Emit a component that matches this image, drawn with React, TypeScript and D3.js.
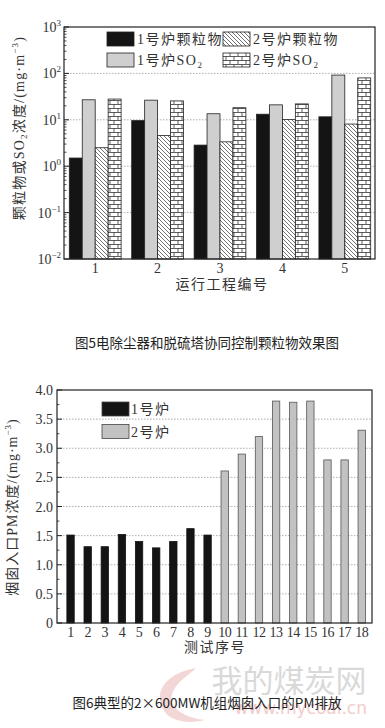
import { useEffect, useRef } from 'react'
import * as d3 from 'd3'

// chart 1: 电除尘器和脱硫塔协同控制
const projects = ['1', '2', '3', '4', '5']
const seriesKeys = ['pm1', 'so1', 'pm2', 'so2']
const seriesLabels = ['1号炉颗粒物', '1号炉SO', '2号炉颗粒物', '2号炉SO']
const pm1 = [1.5, 9.6, 2.85, 13.2, 11.6]
const so1 = [27, 26.5, 13.5, 21, 92]
const pm2 = [2.5, 4.6, 3.35, 10.2, 8.1]
const so2 = [28, 25.5, 18.2, 22, 80]
const logTicks = [0.01, 0.1, 1, 10, 100, 1000]

// chart 2: 烟囱入口PM
const tests = ['1', '2', '3', '4', '5', '6', '7', '8', '9', '10', '11', '12', '13', '14', '15', '16', '17', '18']
const boiler = [1, 1, 1, 1, 1, 1, 1, 1, 1, 2, 2, 2, 2, 2, 2, 2, 2, 2]
const pmValues = [1.51, 1.31, 1.31, 1.52, 1.4, 1.29, 1.4, 1.62, 1.51, 2.61, 2.9, 3.2, 3.81, 3.79, 3.81, 2.8, 2.8, 3.31]
const pmTicks = [0, 0.5, 1.0, 1.5, 2.0, 2.5, 3.0, 3.5, 4.0]

const SERIF = "'Liberation Serif', 'Times New Roman', 'Noto Sans CJK SC', serif"
const CJK = "'Noto Sans CJK SC', sans-serif"

const App = () => {
  const ref = useRef(null)

  const draw = () => {
    const root = d3.select(ref.current)
    root.selectAll('*').remove()
    const svg = root.append('svg')
      .attr('width', 385).attr('height', 728)
      .style('display', 'block')
      .style('background', '#fff')

    const defs = svg.append('defs')
    // diagonal hatch
    const hatch = defs.append('pattern').attr('id', 'hatch')
      .attr('patternUnits', 'userSpaceOnUse').attr('width', 4).attr('height', 4)
    hatch.append('rect').attr('width', 4).attr('height', 4).attr('fill', '#fff')
    hatch.append('path').attr('d', 'M-1,-1 L5,5 M-1,3 L1,5 M3,-1 L5,1')
      .attr('stroke', '#333').attr('stroke-width', 0.7)
    // brick
    const brick = defs.append('pattern').attr('id', 'brick')
      .attr('patternUnits', 'userSpaceOnUse').attr('width', 8).attr('height', 8)
    brick.append('rect').attr('width', 8).attr('height', 8).attr('fill', '#fff')
    brick.append('path').attr('d', 'M0,0.5 H8 M0,4.5 H8 M2,0.5 V4.5 M6,4.5 V8.5')
      .attr('stroke', '#333').attr('stroke-width', 0.8)

    const fills = { pm1: '#141414', so1: '#cfcfcf', pm2: 'url(#hatch)', so2: 'url(#brick)' }
    const values = { pm1, so1, pm2, so2 }

    // ---------- chart 1 ----------
    const m1 = { left: 64, right: 375, top: 27, bottom: 259 }
    const x1 = d3.scaleBand().domain(projects).range([m1.left, m1.right + 1])
      .paddingInner(0.17).paddingOuter(0.085)
    const inner = d3.scaleBand().domain(seriesKeys).range([0, x1.bandwidth()])
    const y1 = d3.scaleLog().domain([0.01, 1000]).range([m1.bottom, m1.top])

    const g1 = svg.append('g')
    // grid
    g1.selectAll('.grid').data([0.1, 1, 10, 100]).enter().append('line')
      .attr('x1', m1.left).attr('x2', m1.right)
      .attr('y1', d => y1(d)).attr('y2', d => y1(d))
      .attr('stroke', '#999').attr('stroke-dasharray', '1.5,1.5').attr('stroke-width', 0.8)

    // bars
    seriesKeys.forEach(k => {
      g1.append('g').selectAll('rect').data(values[k]).enter().append('rect')
        .attr('x', (d, i) => x1(projects[i]) + inner(k))
        .attr('y', d => y1(d))
        .attr('width', inner.bandwidth())
        .attr('height', d => y1(0.01) - y1(d))
        .attr('fill', fills[k])
        .attr('stroke', '#222').attr('stroke-width', 0.8)
    })

    // frame
    g1.append('rect').attr('x', m1.left).attr('y', m1.top)
      .attr('width', m1.right - m1.left).attr('height', m1.bottom - m1.top)
      .attr('fill', 'none').attr('stroke', '#222').attr('stroke-width', 1.2)

    // log ticks (inside)
    const minor1 = []
    for (let e = -2; e < 3; e++) for (let k = 2; k < 10; k++) minor1.push(k * Math.pow(10, e))
    g1.selectAll('.mt').data(minor1).enter().append('line')
      .attr('x1', m1.left).attr('x2', m1.left + 2.5)
      .attr('y1', d => y1(d)).attr('y2', d => y1(d))
      .attr('stroke', '#222').attr('stroke-width', 0.8)
    g1.selectAll('.Mt').data(logTicks).enter().append('line')
      .attr('x1', m1.left).attr('x2', m1.left + 5)
      .attr('y1', d => y1(d)).attr('y2', d => y1(d))
      .attr('stroke', '#222').attr('stroke-width', 1)

    const yl = g1.selectAll('.yl').data(logTicks).enter().append('text')
      .attr('x', m1.left - 3).attr('y', d => y1(d) + 5)
      .attr('text-anchor', 'end')
      .attr('font-family', SERIF).attr('font-size', 14).attr('fill', '#333')
    yl.append('tspan').text('10')
    yl.append('tspan').attr('dy', -6).attr('font-size', 9).text(d => String(Math.round(Math.log10(d))).replace('-', '−'))

    g1.selectAll('.xl').data(projects).enter().append('text')
      .attr('x', d => x1(d) + x1.bandwidth() / 2).attr('y', 273)
      .attr('text-anchor', 'middle')
      .attr('font-family', SERIF).attr('font-size', 14).attr('fill', '#333')
      .text(d => d)

    g1.append('text').attr('x', 222).attr('y', 289).attr('text-anchor', 'middle')
      .attr('font-family', SERIF).attr('font-size', 14).attr('letter-spacing', 1.5).attr('fill', '#333')
      .text('运行工程编号')

    const yt1 = g1.append('text').attr('transform', 'translate(24,128) rotate(-90)')
      .attr('text-anchor', 'middle')
      .attr('font-family', SERIF).attr('font-size', 14).attr('letter-spacing', 1.2).attr('fill', '#333')
    yt1.append('tspan').text('颗粒物或SO')
    yt1.append('tspan').attr('font-size', 9).attr('dy', 3).text('2')
    yt1.append('tspan').attr('dy', -3).text('浓度/(mg·m')
    yt1.append('tspan').attr('font-size', 9).attr('dy', -6).text('−3')
    yt1.append('tspan').attr('dy', 6).text(')')

    // legend
    const legPos = [
      { bx: 107, by: 32, key: 'pm1' },
      { bx: 107, by: 53, key: 'so1' },
      { bx: 223, by: 32, key: 'pm2' },
      { bx: 223, by: 53, key: 'so2' },
    ]
    legPos.forEach((p, i) => {
      g1.append('rect').attr('x', p.bx).attr('y', p.by).attr('width', 27).attr('height', 14)
        .attr('fill', fills[p.key]).attr('stroke', '#222').attr('stroke-width', 0.8)
      const t = g1.append('text').attr('x', p.bx + 30).attr('y', p.by + 12)
        .attr('font-family', SERIF).attr('font-size', 14).attr('letter-spacing', 1.5).attr('fill', '#333')
      t.append('tspan').text(seriesLabels[i])
      if (seriesLabels[i].endsWith('SO')) t.append('tspan').attr('font-size', 9).attr('dy', 3).text('2')
    })

    svg.append('text').attr('x', 207).attr('y', 348).attr('text-anchor', 'middle')
      .attr('font-family', CJK).attr('font-size', 13.5).attr('fill', '#222')
      .text('图5电除尘器和脱硫塔协同控制颗粒物效果图')

    // ---------- chart 2 ----------
    const m2 = { left: 57, right: 372, top: 390, bottom: 623 }
    const x2 = d3.scaleBand().domain(tests).range([m2.left, m2.right])
      .paddingInner(0.57).paddingOuter(0.48).align(0.6)
    const y2 = d3.scaleLinear().domain([0, 4]).range([m2.bottom, m2.top])
    const g2 = svg.append('g')

    g2.selectAll('.grid').data(pmTicks.slice(1, -1)).enter().append('line')
      .attr('x1', m2.left).attr('x2', m2.right)
      .attr('y1', d => y2(d)).attr('y2', d => y2(d))
      .attr('stroke', '#999').attr('stroke-dasharray', '1.5,1.5').attr('stroke-width', 0.8)

    g2.selectAll('.bar').data(pmValues).enter().append('rect')
      .attr('x', (d, i) => x2(tests[i]))
      .attr('y', d => y2(d))
      .attr('width', x2.bandwidth())
      .attr('height', d => y2(0) - y2(d))
      .attr('fill', (d, i) => boiler[i] === 1 ? '#141414' : '#c2c2c2')
      .attr('stroke', (d, i) => boiler[i] === 1 ? '#141414' : '#555')
      .attr('stroke-width', 0.8)

    g2.append('rect').attr('x', m2.left).attr('y', m2.top)
      .attr('width', m2.right - m2.left).attr('height', m2.bottom - m2.top)
      .attr('fill', 'none').attr('stroke', '#222').attr('stroke-width', 1.2)

    g2.selectAll('.mt').data(d3.range(0.25, 4, 0.5)).enter().append('line')
      .attr('x1', m2.left).attr('x2', m2.left + 2.5)
      .attr('y1', d => y2(d)).attr('y2', d => y2(d))
      .attr('stroke', '#222').attr('stroke-width', 0.8)
    g2.selectAll('.Mt').data(pmTicks).enter().append('line')
      .attr('x1', m2.left).attr('x2', m2.left + 5)
      .attr('y1', d => y2(d)).attr('y2', d => y2(d))
      .attr('stroke', '#222').attr('stroke-width', 1)

    g2.selectAll('.yl').data(pmTicks).enter().append('text')
      .attr('x', m2.left - 4).attr('y', d => y2(d) + 5)
      .attr('text-anchor', 'end')
      .attr('font-family', SERIF).attr('font-size', 14).attr('fill', '#333')
      .text(d => d === 0 ? '0' : d3.format('.1f')(d))

    g2.selectAll('.xl').data(tests).enter().append('text')
      .attr('x', d => x2(d) + x2.bandwidth() / 2).attr('y', 637)
      .attr('text-anchor', 'middle')
      .attr('font-family', SERIF).attr('font-size', 14).attr('fill', '#333')
      .attr('letter-spacing', -0.5)
      .text(d => d)

    g2.append('text').attr('x', 215).attr('y', 652).attr('text-anchor', 'middle')
      .attr('font-family', SERIF).attr('font-size', 14).attr('letter-spacing', 1.5).attr('fill', '#333')
      .text('测试序号')

    const yt2 = g2.append('text').attr('transform', 'translate(17,507) rotate(-90)')
      .attr('text-anchor', 'middle')
      .attr('font-family', SERIF).attr('font-size', 14).attr('letter-spacing', 1).attr('fill', '#333')
    yt2.append('tspan').text('烟囱入口PM浓度/(mg·m')
    yt2.append('tspan').attr('font-size', 9).attr('dy', -6).text('−3')
    yt2.append('tspan').attr('dy', 6).text(')')

    ;[{ y: 402, f: '#141414', t: '1号炉' }, { y: 424.5, f: '#c2c2c2', t: '2号炉' }].forEach(l => {
      g2.append('rect').attr('x', 102).attr('y', l.y).attr('width', 27).attr('height', 14)
        .attr('fill', l.f).attr('stroke', '#444').attr('stroke-width', 0.8)
      g2.append('text').attr('x', 131).attr('y', l.y + 12)
        .attr('font-family', SERIF).attr('font-size', 14).attr('letter-spacing', 1.5).attr('fill', '#333')
        .text(l.t)
    })

    // watermark
    svg.append('path').attr('d', 'M196,668 C170,672 150,690 165,712 C172,722 190,724 205,720 C185,718 168,708 172,694 C176,682 188,676 196,668 Z')
      .attr('fill', '#f3d6d6')
    svg.append('text').attr('x', 289).attr('y', 692).attr('text-anchor', 'middle')
      .attr('font-family', CJK).attr('font-size', 31).attr('fill', '#d9d9d9')
      .text('我的煤炭网')
    svg.append('text').attr('x', 367).attr('y', 714).attr('text-anchor', 'end')
      .attr('font-family', "'DejaVu Sans', sans-serif").attr('font-size', 17).attr('fill', '#f2cccc')
      .text('www.mycoal.cn')

    svg.append('text').attr('x', 207).attr('y', 708).attr('text-anchor', 'middle')
      .attr('font-family', CJK).attr('font-size', 13.5).attr('fill', '#222')
      .text('图6典型的2×600MW机组烟囱入口的PM排放')
  }

  useEffect(() => {
    draw()
  }, [])

  return (
    <div ref={ref} style={{ position: 'absolute', left: 0, top: 0 }}></div>
  )
}

export default App
